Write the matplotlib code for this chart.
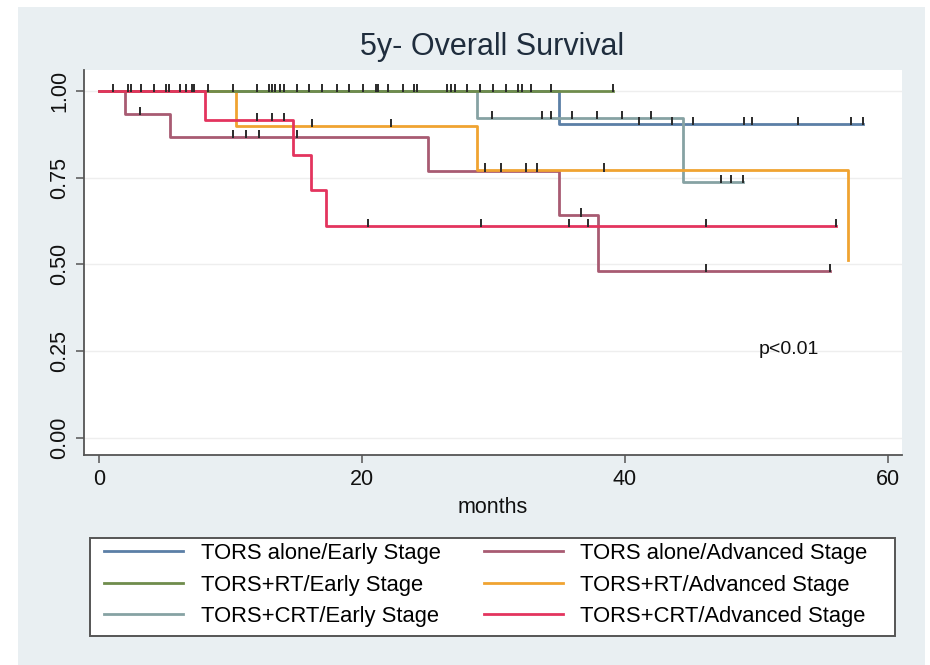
import matplotlib
matplotlib.use("Agg")
import matplotlib.pyplot as plt
from matplotlib.patches import Rectangle

plt.rcParams["font.family"] = ["Liberation Sans", "DejaVu Sans"]

# step times (months) and survival after each step, plus last follow-up time
groups = [
    "TORS alone/Early Stage",
    "TORS+RT/Early Stage",
    "TORS+CRT/Early Stage",
    "TORS alone/Advanced Stage",
    "TORS+RT/Advanced Stage",
    "TORS+CRT/Advanced Stage",
]
colors = ["#5b7fa6", "#6f8c4c", "#86a2a3", "#a85b72", "#f0a331", "#e3345e"]

alone_early_t = [35.0]
alone_early_s = [0.905]
alone_early_end = 58.1
alone_early_cens = [41.1, 43.6, 45.2, 49.1, 49.7, 53.2, 57.2, 58.1]

rt_early_t = []
rt_early_s = []
rt_early_end = 39.1
rt_early_cens = [1.1, 2.2, 2.4, 3.2, 4.2, 5.1, 5.3, 6.2, 6.6, 7.1, 7.2, 8.3,
                 10.2, 12.0, 12.9, 13.2, 13.4, 13.8, 14.1, 15.1, 16.0, 17.0,
                 18.1, 19.0, 20.1, 21.1, 21.2, 22.0, 23.1, 24.0, 24.2, 26.5,
                 26.8, 27.1, 28.0, 29.0, 30.0, 31.0, 31.9, 32.2, 32.9, 34.4, 39.1]

crt_early_t = [28.8, 44.4]
crt_early_s = [0.923, 0.738]
crt_early_end = 49.0
crt_early_cens = [29.9, 33.7, 34.4, 36.0, 37.9, 39.8, 42.0, 47.3, 48.1, 49.0]

alone_adv_t = [2.0, 5.4, 25.0, 35.0, 38.0]
alone_adv_s = [0.933, 0.867, 0.770, 0.642, 0.481]
alone_adv_end = 55.6
alone_adv_cens = [3.1, 10.2, 11.2, 12.2, 15.1, 36.7, 46.2, 55.6]

rt_adv_t = [10.4, 28.8, 57.0]
rt_adv_s = [0.900, 0.771, 0.514]
rt_adv_end = 57.0
rt_adv_cens = [16.2, 22.2, 29.4, 30.6, 32.5, 33.3, 38.4]

crt_adv_t = [8.1, 14.8, 16.1, 17.3]
crt_adv_s = [0.917, 0.815, 0.713, 0.611]
crt_adv_end = 56.1
crt_adv_cens = [12.0, 13.2, 14.1, 20.5, 29.1, 35.8, 37.2, 46.2, 56.1]

curves = [
    (alone_early_t, alone_early_s, alone_early_end, alone_early_cens),
    (rt_early_t, rt_early_s, rt_early_end, rt_early_cens),
    (crt_early_t, crt_early_s, crt_early_end, crt_early_cens),
    (alone_adv_t, alone_adv_s, alone_adv_end, alone_adv_cens),
    (rt_adv_t, rt_adv_s, rt_adv_end, rt_adv_cens),
    (crt_adv_t, crt_adv_s, crt_adv_end, crt_adv_cens),
]
draw_order = [0, 2, 3, 4, 1, 5]

y_ticks = [0.0, 0.25, 0.5, 0.75, 1.0]
y_labels = ["0.00", "0.25", "0.50", "0.75", "1.00"]
x_ticks = [0, 20, 40, 60]


def surv_at(t, times, surv):
    s = 1.0
    for ti, si in zip(times, surv):
        if t >= ti:
            s = si
    return s


fig = plt.figure(figsize=(9.3, 6.65), dpi=100)
fig.patch.set_facecolor("white")
fig.add_artist(Rectangle((18 / 930, 0), 907 / 930, 658 / 665,
                         transform=fig.transFigure, facecolor="#e9eff2",
                         edgecolor="none", zorder=-10))

ax = fig.add_axes([84 / 930, 1 - 455 / 665, 818 / 930, 385 / 665])
ax.set_facecolor("white")

handles = {}
for z, i in enumerate(draw_order):
    times, surv, end, cens = curves[i]
    xs = [0.0] + list(times) + [end]
    ys = [1.0] + list(surv) + [surv[-1] if surv else 1.0]
    line, = ax.step(xs, ys, where="post", color=colors[i], lw=2.0,
                    zorder=3 + z, label=groups[i])
    handles[i] = line
    cy = [surv_at(c, times, surv) for c in cens]
    ax.vlines(cens, [y - 0.004 for y in cy], [y + 0.02 for y in cy],
              color="#2a2a2a", lw=1.4, zorder=10)

ax.text(50.2, 0.256, "p<0.01", fontsize=14, va="center", ha="left",
        color="#111111")

ax.set_xlim(-1.14, 61.1)
ax.set_ylim(-0.049, 1.06)
ax.set_yticks(y_ticks)
ax.set_yticklabels(y_labels, rotation=90, va="center")
ax.set_xticks(x_ticks)
ax.yaxis.grid(True, color="#eeeeee", lw=1.0)
ax.set_axisbelow(True)
for side in ("top", "right"):
    ax.spines[side].set_visible(False)
for side in ("left", "bottom"):
    ax.spines[side].set_color("#555555")
    ax.spines[side].set_linewidth(1.3)
ax.tick_params(axis="both", length=6, width=1.1, color="#555555",
               labelsize=15.5, labelcolor="#111111")
ax.tick_params(axis="y", pad=4)
ax.tick_params(axis="x", pad=4)
ax.set_xlabel("months", fontsize=15.5, labelpad=5, color="#111111")

fig.text(492 / 930, 1 - 47 / 665, "5y- Overall Survival", fontsize=22,
         ha="center", va="center", color="#1f2d3d")

# legend box drawn separately so it spans the full plot width
fig.add_artist(Rectangle((90 / 930, 1 - 636 / 665), 805 / 930, 98 / 665,
                         transform=fig.transFigure, facecolor="white",
                         edgecolor="#555555", lw=1.4, zorder=1))
leg = fig.legend([handles[i] for i in range(6)], groups, ncol=2,
                 loc="upper left", bbox_to_anchor=(93 / 930, 1 - 532 / 665),
                 borderaxespad=0, fontsize=15.8, handlelength=3.6,
                 handletextpad=0.8, columnspacing=1.98, labelspacing=0.48,
                 borderpad=0.5, frameon=False)
leg.set_zorder(2)
for lh in leg.get_lines():
    lh.set_linewidth(2.0)

fig.savefig("out.png", dpi=100)
